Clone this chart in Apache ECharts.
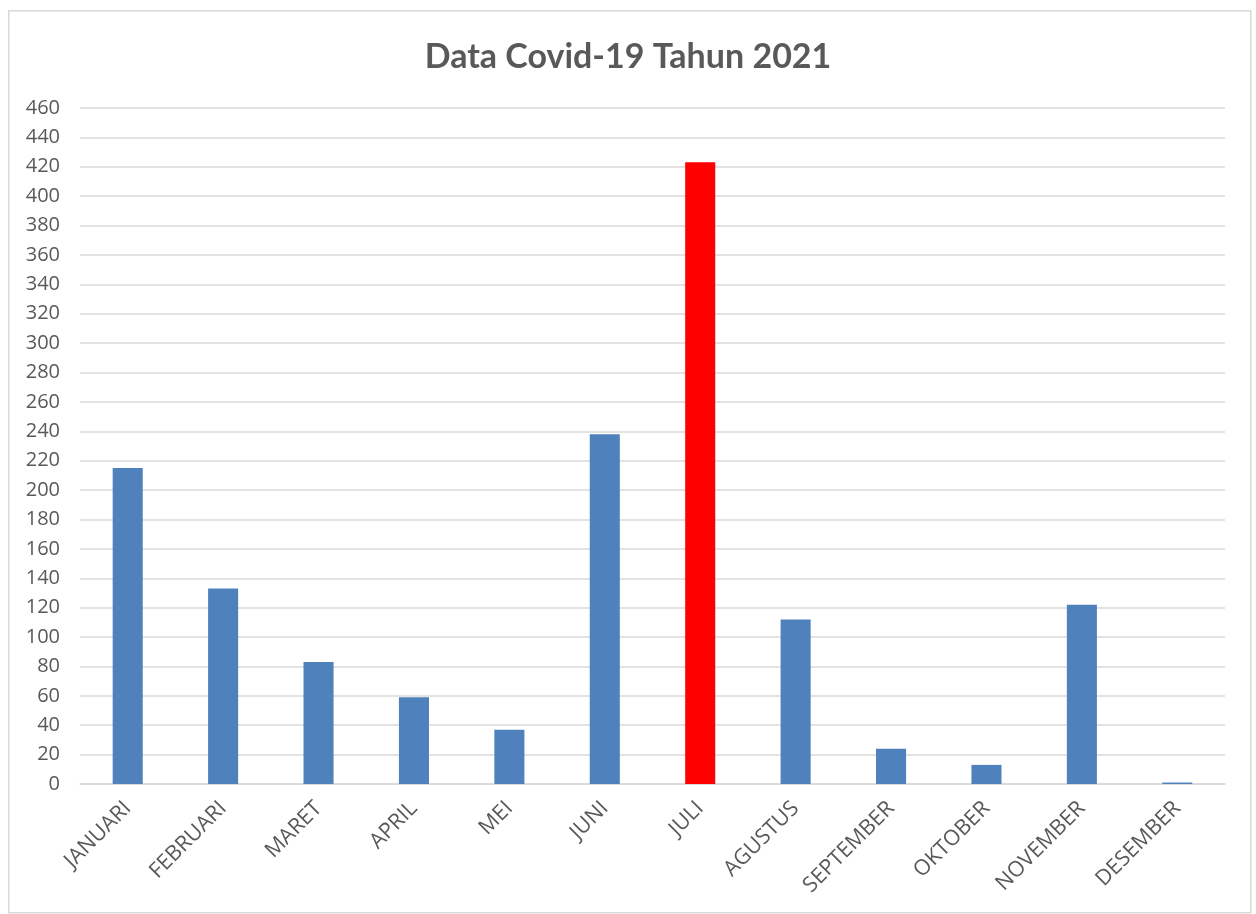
<!DOCTYPE html>
<html>
<head>
<meta charset="utf-8">
<script src="https://cdn.jsdelivr.net/npm/echarts@6/dist/echarts.min.js"></script>
<style>
html,body{margin:0;padding:0;background:#fff;}
#chart{width:1256px;height:914px;}
</style>
</head>
<body>
<div id="chart"></div>
<script>
const categories = ['JANUARI','FEBRUARI','MARET','APRIL','MEI','JUNI','JULI','AGUSTUS','SEPTEMBER','OKTOBER','NOVEMBER','DESEMBER'];
const values = [215, 133, 83, 59, 37, 238, 423, 112, 24, 13, 122, 1];
const highlightIndex = 6;
const yMin = 0, yMax = 460, yStep = 20;

const chart = echarts.init(document.getElementById('chart'));
chart.setOption({
  animation: false,
  backgroundColor: '#fff',
  graphic: [{
    type: 'rect', left: 8, top: 10, z: -1,
    shape: { width: 1242, height: 902 },
    style: { fill: '#fff', stroke: '#d9d9d9', lineWidth: 1.5 }
  }],
  title: {
    text: 'Data Covid-19 Tahun 2021',
    left: 'center', top: 35,
    textStyle: { fontFamily: 'Lato', fontWeight: 'bold', fontSize: 34, color: '#595959' }
  },
  grid: { left: 80, right: 31, top: 108, bottom: 130, containLabel: false },
  xAxis: {
    type: 'category',
    data: categories,
    axisLine: { show: true, lineStyle: { color: '#d9d9d9', width: 1.5 } },
    axisTick: { show: false },
    axisLabel: { rotate: 45, interval: 0, color: '#595959', fontSize: 21.5, fontFamily: 'Open Sans', margin: 21 }
  },
  yAxis: {
    type: 'value', min: yMin, max: yMax, interval: yStep,
    axisLine: { show: false }, axisTick: { show: false },
    splitLine: { lineStyle: { color: '#d9d9d9', width: 1.5 } },
    axisLabel: { color: '#595959', fontSize: 20, fontFamily: 'Open Sans', margin: 20 }
  },
  series: [{
    type: 'bar',
    data: values.map((v, i) => ({ value: v, itemStyle: { color: i === highlightIndex ? '#ff0000' : '#4f81bd' } })),
    barWidth: '31.5%'
  }]
});
</script>
</body>
</html>
